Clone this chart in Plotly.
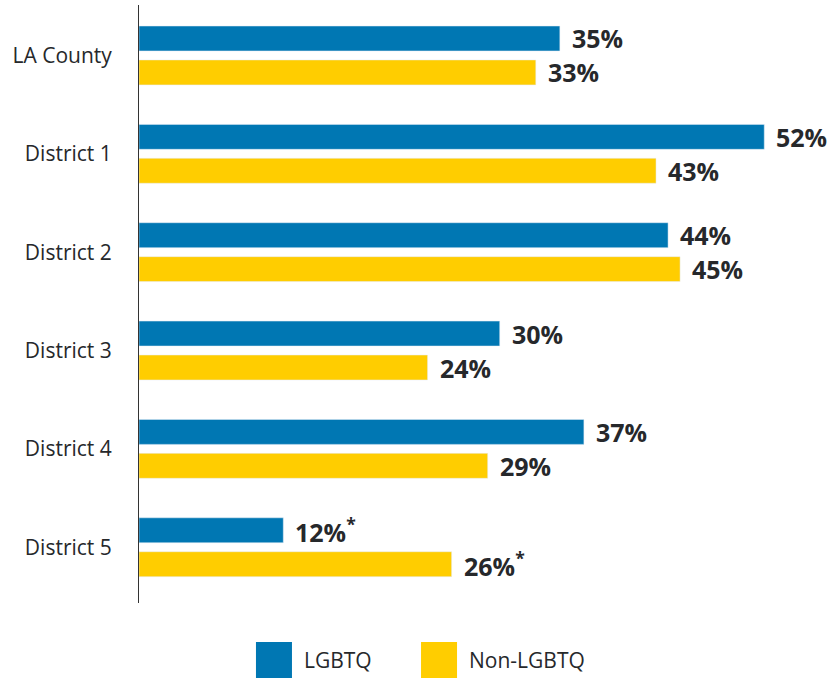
import plotly.graph_objects as go

# data
regions = ["LA County", "District 1", "District 2", "District 3", "District 4", "District 5"]
lgbtq = [35, 52, 44, 30, 37, 12]
non_lgbtq = [33, 43, 45, 24, 29, 26]
lgbtq_note = ["", "", "", "", "", "*"]
non_lgbtq_note = ["", "", "", "", "", "*"]

BLUE = "#0077B3"
YELLOW = "#FFCD00"
INK = "#26282b"
FONT = "Open Sans"

fig = go.Figure()
fig.add_trace(go.Bar(y=regions, x=lgbtq, orientation="h", name="LGBTQ",
                     marker_color=BLUE, hoverinfo="skip"))
fig.add_trace(go.Bar(y=regions, x=non_lgbtq, orientation="h", name="Non-LGBTQ",
                     marker_color=YELLOW, hoverinfo="skip"))

# value labels next to each bar
for vals, notes, shift in [(lgbtq, lgbtq_note, 17), (non_lgbtq, non_lgbtq_note, -17)]:
    for reg, v, n in zip(regions, vals, notes):
        txt = f"{v}%" + (f"<sup>{n}</sup>" if n else "")
        fig.add_annotation(x=v, y=reg, text=txt, showarrow=False,
                           xanchor="left", yanchor="middle",
                           xshift=10, yshift=shift,
                           font=dict(family=FONT, size=25, color=INK, weight="bold"))

# legend with big square swatches
legend_items = [("LGBTQ", BLUE, 0.1683), ("Non-LGBTQ", YELLOW, 0.4058)]
for label, col, x0 in legend_items:
    fig.add_shape(type="rect", xref="paper", yref="paper",
                  x0=x0, x1=x0 + 0.0518, y0=-0.0652, y1=-0.1254,
                  fillcolor=col, line_width=0)
    fig.add_annotation(xref="paper", yref="paper", x=x0 + 0.0518, y=-0.0953,
                       text=label, showarrow=False, xanchor="left", yanchor="middle",
                       xshift=10, font=dict(family=FONT, size=21, color=INK))

fig.update_layout(
    width=834, height=679,
    margin=dict(l=139, r=0, t=5, b=76),
    barmode="group", bargap=0.31, bargroupgap=0.265,
    showlegend=False,
    plot_bgcolor="white", paper_bgcolor="white",
    font=dict(family=FONT, color=INK),
)
fig.update_xaxes(range=[0, 57.8], visible=False)
fig.update_yaxes(range=[5.567, -0.513], showline=True, linecolor="#333333", linewidth=1,
                 showgrid=False, ticks="", ticklabelstandoff=22,
                 tickfont=dict(family=FONT, size=21, color=INK))

# page has a default body margin, drop it so the chart sits at the corner
fig.write_html("out.html", config={"displayModeBar": False},
               post_script="document.body.style.margin='0';")
